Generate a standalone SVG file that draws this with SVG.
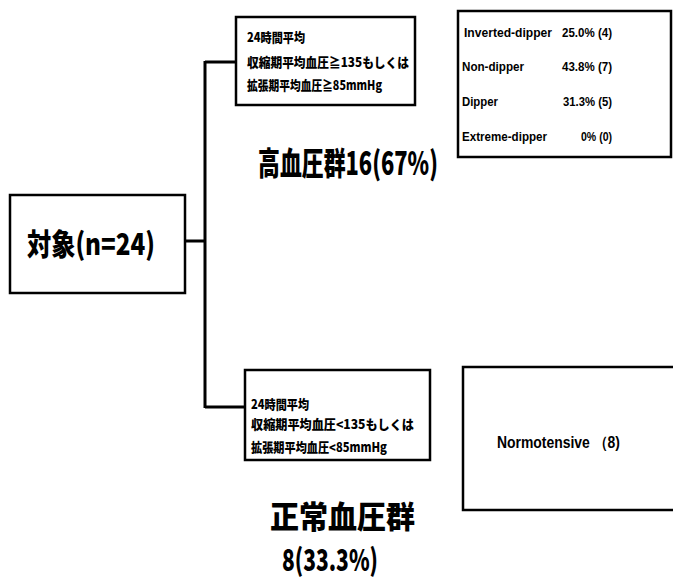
<svg xmlns="http://www.w3.org/2000/svg" width="673" height="582" viewBox="0 0 673 582">
<style>
.box{fill:#fff;stroke:#000;stroke-width:2.5}
.con{fill:none;stroke:#000;stroke-width:3}
.jp{font-family:"Noto Sans CJK JP","Liberation Sans",sans-serif;font-weight:900;fill:#000}
.en{font-family:"Liberation Sans","Noto Sans",sans-serif;font-weight:bold;fill:#000}
</style>
<rect width="673" height="582" fill="#fff"/>
<g id="connectors">
<path class="con" d="M185,241 H205 M205,61 V408 M205,62 H237 M205,407 H246"/>
</g>
<g id="subject">
<rect class="box" x="10" y="195" width="175" height="98"/>
<text class="jp" x="27" y="255" font-size="30" textLength="128" lengthAdjust="spacingAndGlyphs">対象(n=24)</text>
</g>
<g id="hyper-criteria">
<rect class="box" x="236" y="17" width="179" height="88"/>
<text class="jp" x="247" y="42" font-size="13" textLength="58" lengthAdjust="spacingAndGlyphs">24時間平均</text>
<text class="jp" x="247" y="67" font-size="13" textLength="162" lengthAdjust="spacingAndGlyphs">収縮期平均血圧≧135もしくは</text>
<text class="jp" x="247" y="90" font-size="13" textLength="135" lengthAdjust="spacingAndGlyphs">拡張期平均血圧≧85mmHg</text>
</g>
<g id="hyper-label">
<text class="jp" transform="translate(258,175) scale(0.7,1)" font-size="32" textLength="257" lengthAdjust="spacingAndGlyphs">高血圧群16(67%)</text>
</g>
<g id="dipper-table">
<rect class="box" x="458" y="11" width="213" height="146"/>
<text class="en" x="464" y="37" font-size="12" textLength="88" lengthAdjust="spacingAndGlyphs">Inverted-dipper</text>
<text class="en" x="562" y="37" font-size="12" textLength="50" lengthAdjust="spacingAndGlyphs">25.0% (4)</text>
<text class="en" x="462" y="71" font-size="12" textLength="62" lengthAdjust="spacingAndGlyphs">Non-dipper</text>
<text class="en" x="562" y="71" font-size="12" textLength="50" lengthAdjust="spacingAndGlyphs">43.8% (7)</text>
<text class="en" x="462" y="106" font-size="12" textLength="36" lengthAdjust="spacingAndGlyphs">Dipper</text>
<text class="en" x="563" y="106" font-size="12" textLength="49" lengthAdjust="spacingAndGlyphs">31.3% (5)</text>
<text class="en" x="462" y="141" font-size="12" textLength="85" lengthAdjust="spacingAndGlyphs">Extreme-dipper</text>
<text class="en" x="581" y="141" font-size="12" textLength="31" lengthAdjust="spacingAndGlyphs">0% (0)</text>
</g>
<g id="normo-criteria">
<rect class="box" x="245" y="370" width="185" height="90"/>
<text class="jp" x="251" y="409" font-size="13" textLength="58" lengthAdjust="spacingAndGlyphs">24時間平均</text>
<text class="jp" x="251" y="429" font-size="13" textLength="163" lengthAdjust="spacingAndGlyphs">収縮期平均血圧&lt;135もしくは</text>
<text class="jp" x="251" y="452" font-size="13" textLength="136" lengthAdjust="spacingAndGlyphs">拡張期平均血圧&lt;85mmHg</text>
</g>
<g id="normo-label">
<text class="jp" x="270" y="528" font-size="31" textLength="145" lengthAdjust="spacingAndGlyphs">正常血圧群</text>
<text class="jp" x="282" y="571" font-size="30" textLength="96" lengthAdjust="spacingAndGlyphs">8(33.3%)</text>
</g>
<g id="normotensive">
<rect class="box" x="463" y="367" width="212" height="143"/>
<text class="en" x="497" y="448" font-size="16" textLength="123" lengthAdjust="spacingAndGlyphs">Normotensive （8)</text>
</g>
</svg>
